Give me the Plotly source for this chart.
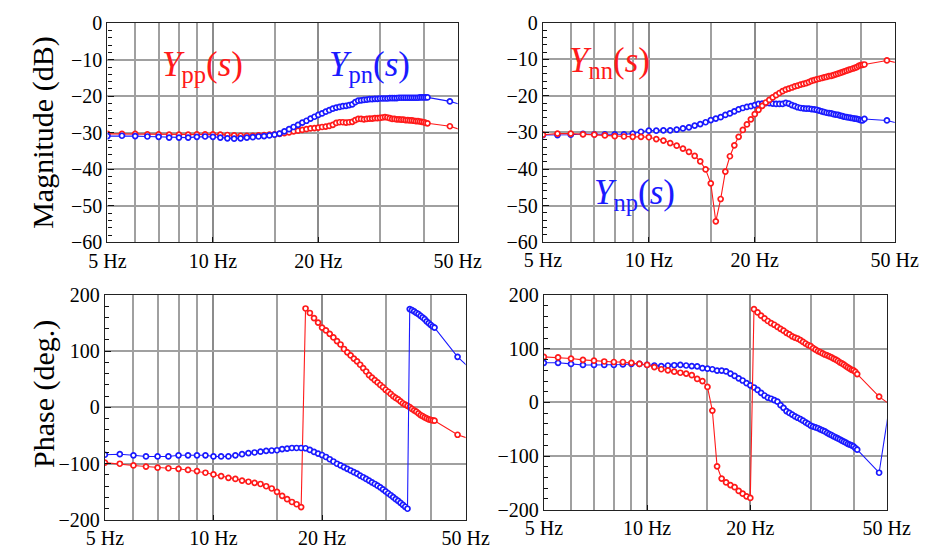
import math
import plotly.graph_objects as go

# ---------------- data ----------------
FREQ = [5.0, 5.5, 6.0, 6.5, 7.0, 7.5, 8.0, 8.5, 9.0, 9.5,
        10.0, 10.5, 11.0, 11.5, 12.0, 12.5, 13.0, 13.5, 14.0, 14.5,
        15.0, 15.5, 16.0, 16.5, 17.0, 17.5, 18.0, 18.5, 19.0, 19.5,
        20.0, 20.5, 21.0, 21.5, 22.0, 22.5, 23.0, 23.5, 24.0, 24.5,
        25.0, 25.5, 26.0, 26.5, 27.0, 27.5, 28.0, 28.5, 29.0, 29.5,
        30.0, 30.5, 31.0, 31.5, 32.0, 32.5, 33.0, 33.5, 34.0, 34.5,
        35.0, 35.5, 36.0, 36.5, 37.0, 37.5, 38.0, 38.5, 39.0, 39.5,
        40.0, 40.5, 41.0, 47.5, 55.0]

YPP_MAG = [-30.3, -30.3, -30.3, -30.4, -30.4, -30.5, -30.5, -30.5, -30.4, -30.4,
           -30.4, -30.5, -30.6, -30.7, -30.8, -30.8, -30.8, -30.7, -30.6, -30.5,
           -30.4, -30.3, -30.1, -29.9, -29.6, -29.4, -29.2, -29.0, -28.8, -28.7,
           -28.6, -28.4, -28.3, -28.1, -27.8, -27.3, -27.1, -27.1, -27.2, -27.1,
           -27.0, -26.5, -26.2, -26.2, -26.3, -26.2, -26.1, -26.1, -26.0, -26.0,
           -25.9, -25.8, -25.7, -25.8, -26.0, -26.2, -26.2, -26.3, -26.3, -26.4,
           -26.4, -26.5, -26.5, -26.6, -26.6, -26.7, -26.8, -26.8, -26.9, -27.0,
           -27.1, -27.3, -27.4, -28.2, -30.2]

YPN_MAG = [-30.9, -30.8, -30.9, -31.0, -31.1, -31.3, -31.3, -31.3, -31.1, -31.0,
           -31.1, -31.3, -31.5, -31.6, -31.5, -31.3, -31.2, -31.0, -30.9, -30.7,
           -30.5, -30.2, -29.6, -29.0, -28.4, -27.8, -27.2, -26.7, -26.1, -25.6,
           -25.1, -24.7, -24.2, -23.8, -23.4, -23.1, -22.9, -22.7, -22.6, -22.4,
           -22.2, -21.6, -21.2, -21.1, -21.0, -20.9, -20.8, -20.8, -20.7, -20.7,
           -20.6, -20.6, -20.6, -20.6, -20.5, -20.5, -20.5, -20.5, -20.4, -20.4,
           -20.4, -20.4, -20.4, -20.4, -20.4, -20.4, -20.4, -20.4, -20.3, -20.3,
           -20.3, -20.3, -20.3, -21.4, -23.2]

YNN_MAG = [-30.6, -30.3, -30.3, -30.5, -30.6, -30.8, -31.0, -31.1, -31.2, -31.2,
           -31.3, -31.8, -32.2, -32.9, -33.6, -34.4, -35.3, -36.4, -37.9, -40.1,
           -43.9, -54.3, -48.2, -40.7, -36.5, -33.5, -31.2, -29.3, -27.8, -26.4,
           -25.0, -23.8, -22.7, -21.8, -21.1, -20.4, -19.8, -19.2, -18.7, -18.3,
           -18.0, -17.7, -17.4, -17.2, -16.9, -16.7, -16.5, -16.2, -15.9, -15.7,
           -15.5, -15.3, -15.1, -14.9, -14.8, -14.6, -14.5, -14.3, -14.1, -13.9,
           -13.7, -13.5, -13.3, -13.1, -12.9, -12.7, -12.5, -12.3, -12.1, -11.8,
           -11.6, -11.5, -11.4, -10.3, -11.8]

YNP_MAG = [-30.7, -30.7, -30.6, -30.4, -30.5, -30.5, -30.5, -30.5, -30.3, -29.8,
           -29.5, -29.5, -29.4, -29.4, -29.2, -28.9, -28.6, -28.1, -27.7, -27.2,
           -26.6, -26.2, -25.8, -25.2, -24.8, -24.2, -23.7, -23.3, -23.0, -22.8,
           -22.5, -22.2, -22.1, -22.0, -22.0, -22.1, -22.2, -22.2, -22.2, -21.9,
           -22.1, -22.5, -22.8, -23.1, -23.3, -23.4, -23.5, -23.5, -23.6, -23.7,
           -23.8, -24.0, -24.2, -24.4, -24.6, -24.7, -24.8, -25.0, -25.1, -25.2,
           -25.4, -25.5, -25.7, -25.8, -25.9, -26.0, -26.1, -26.2, -26.3, -26.4,
           -26.6, -26.7, -26.3, -26.7, -28.3]

YPP_PH = [-98, -100, -103, -105, -107, -108, -109, -111, -113, -116,
          -119, -122, -125, -127, -130, -132, -134, -136, -140, -144,
          -150, -157, -163, -168, -172, -177, 176, 168, 159, 151,
          142, 137, 131, 124.5, 118, 112, 104, 98, 92.5, 87,
          82, 76, 70, 64, 57.5, 53, 48.5, 44.5, 40, 36,
          31.5, 28, 24, 20, 17, 14.5, 11, 7.5, 5, 3,
          0.5, -2.5, -5, -7.5, -10.5, -13.5, -15.5, -17.5, -19.5, -21,
          -22, -23, -23.5, -48.5, -62]

YPN_PH = [-84, -83, -85, -87, -87, -87, -85, -85, -85, -85,
          -87, -87, -87, -85, -83, -81, -80, -78.5, -77, -76.5,
          -76, -74, -73, -72, -72, -72, -72.5, -75.5, -79, -82,
          -84.5, -88, -92, -96, -100, -103, -106, -109, -112, -115,
          -117.5, -121, -124, -127, -130, -133, -136, -139, -142, -145.5,
          -149, -152.5, -156, -159.5, -163, -166, -169.5, -173, -176.5, -180,
          175, 173, 171, 168, 166, 163, 160, 157, 153, 150,
          147, 144, 142, 90, 52]

YNN_PH = [85, 84, 82, 79.5, 78, 76.5, 75.5, 75.5, 74, 72,
          70, 66, 62, 60, 57.5, 55.5, 54, 51, 44, 40,
          29, -15, -119, -142, -149, -154, -158, -165, -170, -175,
          -178, 174, 168, 162, 157, 152, 148, 145, 141, 137.5,
          134, 130, 127, 123.5, 121, 119, 116.5, 113, 110, 107,
          105, 101.5, 98.5, 96, 94, 91.5, 89.5, 88, 86, 84,
          82, 80, 77.5, 75, 73, 70.5, 68, 65.5, 63, 61,
          60, 57, 53, 11, -19]

YNP_PH = [74, 74, 72, 70, 70, 70, 70, 71, 72, 72,
          70, 69, 68, 69, 69.5, 70, 69, 68, 67.5, 64,
          63, 62, 59.5, 59.5, 58, 54, 49.5, 45, 41, 36,
          32, 28, 23.5, 18, 13, 9, 7, 4.5, 1.5, -5,
          -10, -16, -19.5, -22.5, -26, -28.5, -31, -34, -37, -40,
          -43, -45, -46.5, -48, -50, -52, -54, -56.5, -59, -61,
          -63, -65, -67, -69, -71, -73, -75, -77, -78.5, -80,
          -82, -85, -88, -131, 131]

X_TICKS = [5, 10, 20, 50]
X_TEXT = ["5 Hz", "10 Hz", "20 Hz", "50 Hz"]
X_MINOR = [6, 7, 8, 9, 15, 30, 40]
MAG_TICKS = [0, -10, -20, -30, -40, -50, -60]
MAG_TEXT = ["0", "\u221210", "\u221220", "\u221230", "\u221240", "\u221250", "\u221260"]
PH_TICKS = [200, 100, 0, -100, -200]
PH_TEXT = ["200", "100", "0", "\u2212100", "\u2212200"]

RED = "#ff1a1a"
BLUE = "#1a1aff"
FONT = "'Liberation Serif', 'Times New Roman', Times, serif"
W, H = 941, 555


def px(x):
    return x / W


def py(y):
    return 1 - y / H


def trace(y, color, xa, ya):
    return go.Scatter(
        x=FREQ, y=y, mode="lines+markers", xaxis=xa, yaxis=ya,
        line=dict(color=color, width=1.1),
        marker=dict(symbol="circle", size=5, color="white",
                    line=dict(color=color, width=1.7)),
        showlegend=False, hoverinfo="skip")


fig = go.Figure()
fig.add_trace(trace(YPP_MAG, RED, "x", "y"))
fig.add_trace(trace(YPN_MAG, BLUE, "x", "y"))
fig.add_trace(trace(YNP_MAG, BLUE, "x2", "y2"))
fig.add_trace(trace(YNN_MAG, RED, "x2", "y2"))
fig.add_trace(trace(YPP_PH, RED, "x3", "y3"))
fig.add_trace(trace(YPN_PH, BLUE, "x3", "y3"))
fig.add_trace(trace(YNP_PH, BLUE, "x4", "y4"))
fig.add_trace(trace(YNN_PH, RED, "x4", "y4"))

GRID = "#a0a0a0"


def xaxis(domain, anchor):
    return dict(
        domain=domain, anchor=anchor, type="log",
        range=[math.log10(5), math.log10(50)],
        tickvals=X_TICKS, ticktext=X_TEXT,
        ticks="inside", ticklen=5, tickcolor="#111", tickwidth=1,
        minor=dict(tickvals=X_MINOR, ticks="", showgrid=True,
                   gridcolor=GRID, gridwidth=1.5),
        showgrid=True, gridcolor="#8c8c8c", gridwidth=1.5,
        showline=True, linecolor="#222", linewidth=1.2, mirror=True,
        tickfont=dict(family=FONT, size=20, color="black"),
        zeroline=False, fixedrange=True)


def yaxis(domain, anchor, rng, vals, text, minor):
    return dict(
        domain=domain, anchor=anchor, range=rng,
        tickvals=vals, ticktext=text,
        ticks="inside", ticklen=6, tickcolor="#111", tickwidth=1,
        minor=dict(dtick=minor, ticks="inside", ticklen=4,
                   tickcolor="#111", tickwidth=1, showgrid=False),
        showgrid=True, gridcolor=GRID, gridwidth=1.5,
        showline=True, linecolor="#222", linewidth=1.2, mirror=True,
        tickfont=dict(family=FONT, size=20, color="black"),
        zeroline=False, fixedrange=True)


fig.update_layout(
    width=W, height=H, autosize=False,
    margin=dict(l=0, r=0, t=0, b=0),
    paper_bgcolor="white", plot_bgcolor="white",
    font=dict(family=FONT, color="black"),
    xaxis=xaxis([px(92.7), px(459.7)], "y"),
    yaxis=yaxis([py(241), py(12.7)], "x", [-60, 0], MAG_TICKS, MAG_TEXT, 2),
    xaxis2=xaxis([px(549), px(917.7)], "y2"),
    yaxis2=yaxis([py(240.7), py(12.3)], "x2", [-60, 0], MAG_TICKS, MAG_TEXT, 2),
    xaxis3=xaxis([px(90), px(468)], "y3"),
    yaxis3=yaxis([py(530), py(295.7)], "x3", [-200, 200], PH_TICKS, PH_TEXT, 20),
    xaxis4=xaxis([px(550), px(909.3)], "y4"),
    yaxis4=yaxis([py(519.3), py(296)], "x4", [-200, 200], PH_TICKS, PH_TEXT, 20),
)

# white boxes behind the curve labels (hide the grid there)
boxes = [(127, 13, 240, 74), (305, 13, 413, 74), (555, 13, 667, 82), (575, 151, 694, 226)]
for x0, y0, x1, y1 in boxes:
    fig.add_shape(type="rect", xref="paper", yref="paper",
                  x0=px(x0), x1=px(x1), y0=py(y1), y1=py(y0),
                  fillcolor="white", line=dict(width=0), layer="between")

labels = [
    ("<i>Y</i><sub>pp</sub>(<i>s</i>)", RED, 192, 58),
    ("<i>Y</i><sub>pn</sub>(<i>s</i>)", BLUE, 367, 58),
    ("<i>Y</i><sub>nn</sub>(<i>s</i>)", RED, 619, 54),
    ("<i>Y</i><sub>np</sub>(<i>s</i>)", BLUE, 645, 191),
]
for txt, col, cx, cy in labels:
    fig.add_annotation(text=txt, xref="paper", yref="paper", x=px(cx), y=py(cy),
                       xanchor="center", yanchor="middle", showarrow=False,
                       font=dict(family=FONT, size=35, color=col))

fig.add_annotation(text="Magnitude (dB)", xref="paper", yref="paper",
                   x=px(25), y=py(127), textangle=-90, showarrow=False,
                   xanchor="center", yanchor="middle",
                   font=dict(family=FONT, size=30, color="black"))
fig.add_annotation(text="Phase (deg.)", xref="paper", yref="paper",
                   x=px(26), y=py(399), textangle=-90, showarrow=False,
                   xanchor="center", yanchor="middle",
                   font=dict(family=FONT, size=30, color="black"))

fig.write_html("out.html")
